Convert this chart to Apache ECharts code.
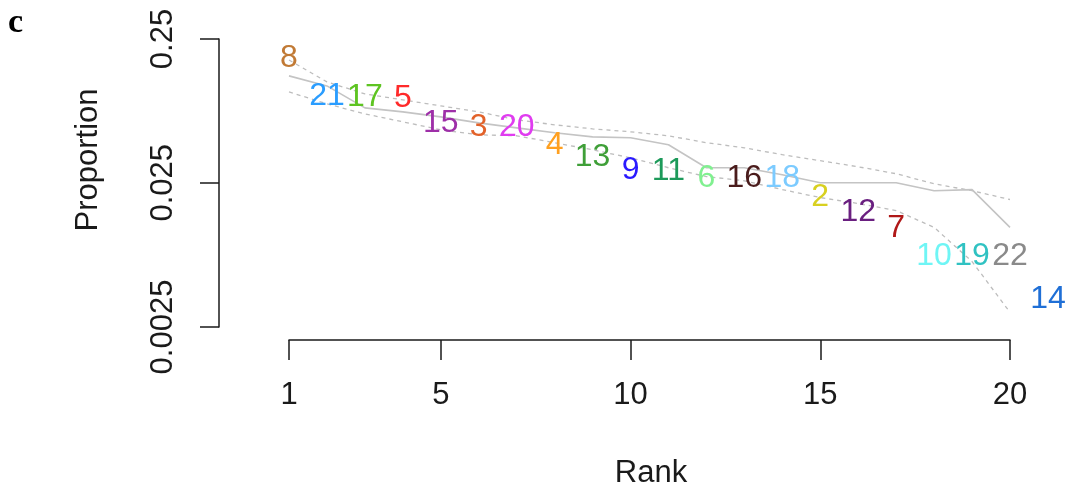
<!DOCTYPE html>
<html>
<head>
<meta charset="utf-8">
<script src="https://cdn.jsdelivr.net/npm/echarts@6/dist/echarts.min.js"></script>
<style>
  html, body { margin: 0; padding: 0; background: #fff; }
  #chart { width: 1069px; height: 494px; }
</style>
</head>
<body>
<div id="chart"></div>
<script>
// Observed proportion for each label, placed at its rank
const labelNames = ['8', '21', '17', '5', '15', '3', '20', '4', '13', '9', '11',
                    '6', '16', '18', '2', '12', '7', '10', '19', '22', '14'];
const labelRanks = [1, 2, 3, 4, 5, 6, 7, 8, 9, 10, 11, 12, 13, 14, 15, 16, 17, 18, 19, 20, 21];
const labelValues = [0.1846, 0.1007, 0.0991, 0.0975, 0.0654, 0.0614, 0.0614, 0.0461,
                     0.0380, 0.0309, 0.0304, 0.0272, 0.0268, 0.0272, 0.0198, 0.0158,
                     0.0121, 0.0077, 0.0077, 0.0077, 0.00388];
const labelColors = ['#c17a35', '#2a9dff', '#5ec422', '#ff2a2a', '#9e2fa8', '#e2622a',
                     '#e03cf0', '#ffa020', '#3f9f38', '#2a1aff', '#1d9a5a', '#80f090',
                     '#4a1c1c', '#7ccbff', '#d8d020', '#6a1f80', '#b01818', '#6ff5f5',
                     '#30c2c2', '#8a8a8a', '#1f6fd6'];

// Reference curves over ranks 1..20: middle (solid), upper and lower (dashed)
const curveRanks = [1, 2, 3, 4, 5, 6, 7, 8, 9, 10, 11, 12, 13, 14, 15, 16, 17, 18, 19, 20];
const middleCurve = [0.1386, 0.1181, 0.0831, 0.0780, 0.0720, 0.0654, 0.0604, 0.0558, 0.0523, 0.0515,
                     0.0461, 0.0319, 0.0319, 0.0285, 0.0251, 0.0251, 0.0251, 0.0221, 0.0225, 0.0123];
const upperCurve = [0.1788, 0.1259, 0.1039, 0.0944, 0.0858, 0.0780, 0.0687, 0.0634, 0.0594, 0.0567,
                    0.0532, 0.0476, 0.0439, 0.0393, 0.0357, 0.0324, 0.0290, 0.0247, 0.0221, 0.0192];
const lowerCurve = [0.1073, 0.0886, 0.0755, 0.0665, 0.0585, 0.0540, 0.0532, 0.0476, 0.0425, 0.0374,
                    0.0319, 0.0277, 0.0259, 0.0225, 0.0198, 0.0180, 0.0161, 0.0123, 0.00712, 0.00316];

// Axis ticks
const xTicks = [1, 5, 10, 15, 20];
const yTickLabels = ['0.0025', '0.025', '0.25'];

const FONT = '"Liberation Sans", Arial, sans-serif';
const pair = (xs, ys) => xs.map((x, i) => [x, ys[i]]);

const chart = echarts.init(document.getElementById('chart'), null, { renderer: 'canvas' });

chart.setOption({
  animation: false,
  backgroundColor: '#ffffff',
  grid: { left: 289, right: 59, top: 39, bottom: 167, containLabel: false },
  xAxis: {
    type: 'value',
    min: 1,
    max: 20,
    offset: 13,
    axisLine: { show: true, lineStyle: { color: '#1a1a1a', width: 1.5 } },
    axisTick: { show: true, length: 20, customValues: xTicks, lineStyle: { color: '#1a1a1a', width: 1.5 } },
    axisLabel: { show: true, customValues: xTicks, margin: 40, fontSize: 31, fontFamily: FONT, color: '#1a1a1a' },
    splitLine: { show: false }
  },
  yAxis: {
    type: 'log',
    logBase: 10,
    min: 0.0025,
    max: 0.25,
    interval: 1,
    offset: 70,
    axisLine: { show: true, lineStyle: { color: '#1a1a1a', width: 1.5 } },
    axisTick: { show: true, length: 19, lineStyle: { color: '#1a1a1a', width: 1.5 } },
    axisLabel: {
      show: true, rotate: 90, margin: 40, fontSize: 31, fontFamily: FONT, color: '#1a1a1a',
      formatter: (v, i) => yTickLabels[i] !== undefined ? yTickLabels[i] : ''
    },
    splitLine: { show: false }
  },
  graphic: [
    { type: 'text', left: 8, top: 6, style: { text: 'c', font: 'bold 34px "Liberation Serif", "Times New Roman", serif', fill: '#000' } },
    { type: 'text', x: 88, y: 160, rotation: Math.PI / 2,
      style: { text: 'Proportion', font: '31px ' + FONT, fill: '#1a1a1a', textAlign: 'center', textVerticalAlign: 'middle' } },
    { type: 'text', x: 651, y: 473,
      style: { text: 'Rank', font: '31px ' + FONT, fill: '#1a1a1a', textAlign: 'center', textVerticalAlign: 'middle' } }
  ],
  series: [
    {
      type: 'line', data: pair(curveRanks, upperCurve), symbol: 'none', silent: true,
      lineStyle: { color: '#bdbdbd', width: 1.3, type: [4, 4] }, z: 1
    },
    {
      type: 'line', data: pair(curveRanks, lowerCurve), symbol: 'none', silent: true,
      lineStyle: { color: '#bdbdbd', width: 1.3, type: [4, 4] }, z: 1
    },
    {
      type: 'line', data: pair(curveRanks, middleCurve), symbol: 'none', silent: true,
      lineStyle: { color: '#c4c4c4', width: 1.6 }, z: 1
    },
    {
      type: 'scatter', clip: false, symbolSize: 1, z: 3,
      itemStyle: { color: 'rgba(0,0,0,0)', opacity: 1 },
      data: labelRanks.map((r, i) => ({
        name: labelNames[i],
        value: [r, labelValues[i]],
        label: { color: labelColors[i] }
      })),
      label: {
        show: true, position: 'inside', formatter: p => p.name,
        fontSize: 32, fontFamily: FONT
      }
    }
  ]
});
</script>
</body>
</html>
